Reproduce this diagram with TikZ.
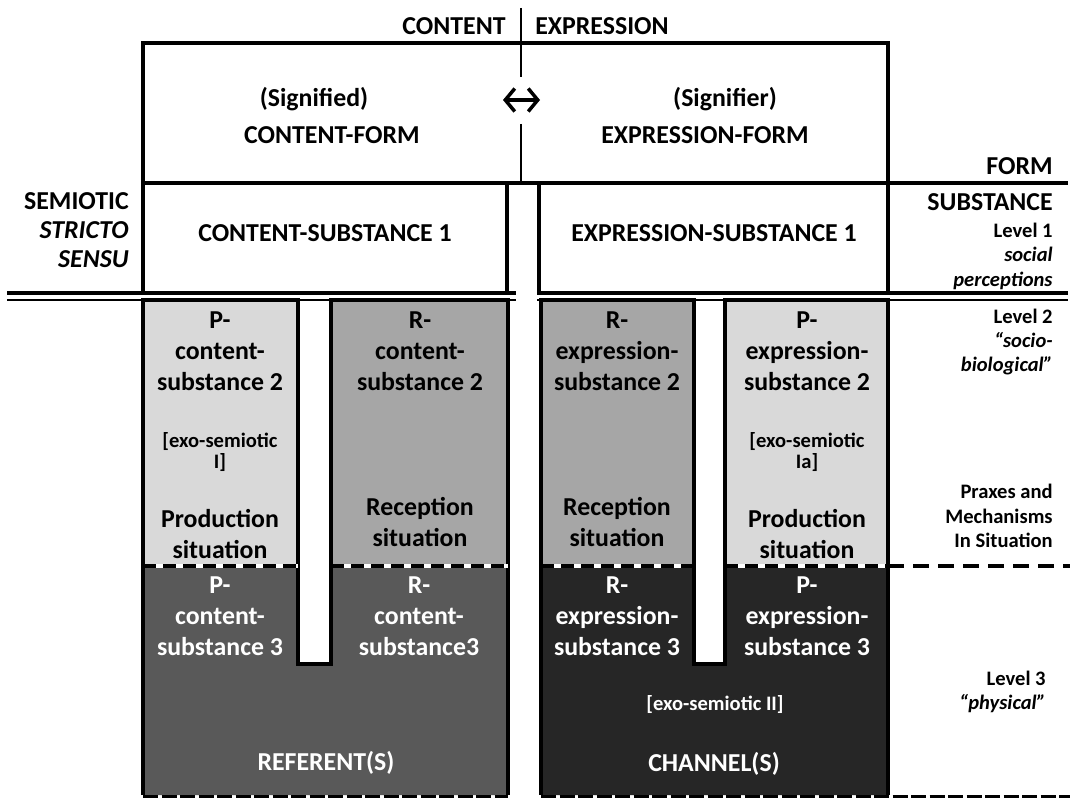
\documentclass[tikz,border=0pt]{standalone}
\usepackage{fontspec}
\setmainfont{Carlito}
\usepackage{xcolor}
\usepackage{tikz}
\usetikzlibrary{arrows.meta}

\definecolor{lightgrey}{HTML}{D9D9D9}
\definecolor{midgrey}{HTML}{A6A6A6}
\definecolor{darkgrey}{HTML}{595959}
\definecolor{nightgrey}{HTML}{262626}

\tikzset{
	big/.style={font=\fontsize{14.7}{17.5}\selectfont\bfseries,align=center,inner sep=0pt},
	small/.style={font=\fontsize{11.7}{12}\selectfont\bfseries,align=center,inner sep=0pt},
	side/.style={font=\fontsize{11.7}{13.9}\selectfont\bfseries,align=right,inner sep=0pt,anchor=east},
	bigside/.style={font=\fontsize{14.7}{16.5}\selectfont\bfseries,align=right,inner sep=0pt,anchor=east},
	frame/.style={line width=0.65mm},
	levelline/.style={line width=0.7mm,dash pattern=on 2.6mm off 1.4mm},
}

\begin{document}
\begin{tikzpicture}[x=0.2mm,y=-0.2mm]
		\fill[white] (0,0) rectangle (1070,798);
		\useasboundingbox (0,0) rectangle (1070,798);
		% level 2
		\filldraw[fill=lightgrey,frame] (143,300) rectangle (298,566);
		\filldraw[fill=midgrey,frame] (331,300) rectangle (508,566);
		\filldraw[fill=midgrey,frame] (541,300) rectangle (694,566);
		\filldraw[fill=lightgrey,frame] (725,300) rectangle (888,566);
		% level 3
		\fill[darkgrey] (143,566) -- (298,566) -- (298,664) -- (331,664) -- (331,566) -- (508,566) -- (508,795) -- (143,795) -- cycle;
		\fill[nightgrey] (541,566) -- (694,566) -- (694,664) -- (725,664) -- (725,566) -- (888,566) -- (888,795) -- (541,795) -- cycle;
		\draw[frame] (143,566) -- (143,795) (508,566) -- (508,795) (298,566) -- (298,664) -- (331,664) -- (331,566);
		\draw[frame] (541,566) -- (541,795) (888,566) -- (888,795) (694,566) -- (694,664) -- (725,664) -- (725,566);
		\foreach \a/\b in {143/298,331/508,541/694,725/888} {
			\draw[white,line width=0.7mm] (\a,566) -- (\b,566);
			\draw[levelline] (\a,566) -- (\b,566);
		}
		\draw[line width=0.7mm,dash pattern=on 3.2mm off 1.8mm] (888,566) -- (1070,566);
		\draw[line width=0.6mm,dash pattern=on 3mm off 0.7mm] (143,796) -- (508,796) (541,796) -- (1070,796);
		% form and substance 1
		\draw[frame] (143,293) -- (143,43) -- (888,43) -- (888,293);
		\draw[frame] (143,183) -- (1068,183);
		\draw[frame] (507,183) -- (507,293) (539,183) -- (539,293);
		\draw[line width=0.55mm] (521,8) -- (521,77) (521,124) -- (521,183);
		\draw[line width=0.7mm] (7,293) -- (516,293) (537,293) -- (1068,293);
		\draw[line width=0.5mm] (7,300) -- (516,300) (537,300) -- (1068,300);
		\coordinate (al) at (503,100);
		\coordinate (ar) at (540,100);
		\draw[{Straight Barb[length=1.9mm,width=4.6mm]}-{Straight Barb[length=1.9mm,width=4.6mm]},line width=0.7mm] (al) -- (ar);
		\node[big,anchor=east] (cont) at (506,26) {CONTENT};
		\node[big,anchor=west] (expr) at (535,26) {EXPRESSION};
		\node[big] (sigd) at (314,99) {(Signified)};
		\node[big] (cform) at (332,135) {CONTENT-FORM};
		\node[big] (sigr) at (725,99) {(Signifier)};
		\node[big] (eform) at (705,135) {EXPRESSION-FORM};
		\node[big] (csub1) at (325,233) {CONTENT-SUBSTANCE 1};
		\node[big] (esub1) at (714,233) {EXPRESSION-SUBSTANCE 1};
		\node[bigside] (semio) at (129,230) {SEMIOTIC\\\textit{STRICTO}\\\textit{SENSU}};
		% level 2 texts
		\node[big] (pc2) at (220,351) {P-\\content-\\substance 2};
		\node[small] (pcx) at (220,452) {[exo-semiotic\\I]};
		\node[big] (pcs) at (220,534) {Production\\situation};
		\node[big] (rc2) at (420,351) {R-\\content-\\substance 2};
		\node[big] (rcs) at (420,522) {Reception\\situation};
		\node[big] (re2) at (617,351) {R-\\expression-\\substance 2};
		\node[big] (res) at (617,522) {Reception\\situation};
		\node[big] (pe2) at (807,351) {P-\\expression-\\substance 2};
		\node[small] (pex) at (807,452) {[exo-semiotic\\Ia]};
		\node[big] (pes) at (807,534) {Production\\situation};
		% level 3 texts
		\node[big,white] (pc3) at (220,616) {P-\\content-\\substance 3};
		\node[big,white] (rc3) at (419,616) {R-\\content-\\substance3};
		\node[big,white] (ref) at (326,763) {REFERENT(S)};
		\node[big,white] (re3) at (617,616) {R-\\expression-\\substance 3};
		\node[big,white] (pe3) at (807,616) {P-\\expression-\\substance 3};
		\node[small,white] (ex2) at (715,705) {[exo-semiotic II]};
		\node[big,white] (chan) at (714,764) {CHANNEL(S)};
		% right column
		\node[bigside] (form) at (1053,166) {FORM};
		\node[bigside] (subst) at (1053,202) {SUBSTANCE};
		\node[side] (lev1) at (1053,256) {Level 1\\\textit{social}\\\textit{perceptions}};
		\node[side] (lev2) at (1053,342) {Level 2\\\textit{“socio-}\\\textit{biological”}};
		\node[side] (prax) at (1053,516) {Praxes and\\Mechanisms\\In Situation};
		\node[side] (lev3) at (1046,692) {Level 3\\\textit{“physical”}};
	\end{tikzpicture}
\end{document}
